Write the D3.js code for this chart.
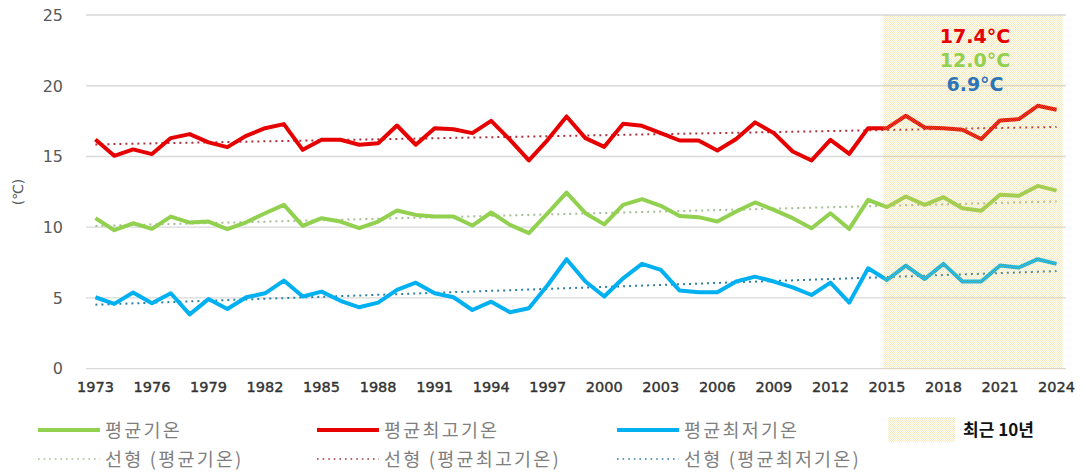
<!DOCTYPE html>
<html>
<head>
<meta charset="utf-8">
<script src="https://cdn.jsdelivr.net/npm/d3@7/dist/d3.min.js"></script>
<style>
  body { margin: 0; background: #fff; }
  svg { display: block; }
</style>
</head>
<body>
<div id="chart"></div>
<script>
/**
 * DATA
 * */
const years = [1973, 1974, 1975, 1976, 1977, 1978, 1979, 1980, 1981, 1982,
  1983, 1984, 1985, 1986, 1987, 1988, 1989, 1990, 1991, 1992,
  1993, 1994, 1995, 1996, 1997, 1998, 1999, 2000, 2001, 2002,
  2003, 2004, 2005, 2006, 2007, 2008, 2009, 2010, 2011, 2012,
  2013, 2014, 2015, 2016, 2017, 2018, 2019, 2020, 2021, 2022,
  2023, 2024];

// 평균최고기온
const maxTemp = [16.2, 15.05, 15.5, 15.17, 16.3, 16.58, 16.0, 15.66, 16.46, 17.0,
  17.29, 15.47, 16.18, 16.18, 15.83, 15.94, 17.19, 15.83, 17.0, 16.93,
  16.65, 17.52, 16.18, 14.72, 16.18, 17.83, 16.3, 15.68, 17.31, 17.17,
  16.65, 16.13, 16.13, 15.42, 16.23, 17.41, 16.65, 15.35, 14.72, 16.18,
  15.19, 17.0, 17.0, 17.88, 17.05, 17.0, 16.89, 16.23, 17.55, 17.64,
  18.58, 18.3];

// 평균기온
const avgTemp = [10.64, 9.79, 10.28, 9.88, 10.75, 10.33, 10.4, 9.86, 10.35, 10.99,
  11.58, 10.09, 10.64, 10.4, 9.93, 10.4, 11.18, 10.87, 10.75, 10.75,
  10.12, 11.04, 10.16, 9.58, 10.99, 12.45, 10.99, 10.2, 11.58, 11.98,
  11.51, 10.8, 10.71, 10.4, 11.11, 11.75, 11.23, 10.64, 9.93, 10.99,
  9.88, 11.93, 11.42, 12.17, 11.58, 12.12, 11.34, 11.16, 12.29, 12.22,
  12.92, 12.59];

// 평균최저기온
const minTemp = [5.05, 4.58, 5.38, 4.62, 5.33, 3.84, 4.92, 4.22, 5.05, 5.33,
  6.23, 5.1, 5.45, 4.8, 4.34, 4.67, 5.57, 6.08, 5.33, 5.05,
  4.15, 4.74, 3.99, 4.27, 5.92, 7.74, 6.16, 5.1, 6.39, 7.41,
  6.98, 5.52, 5.4, 5.4, 6.16, 6.51, 6.16, 5.75, 5.21, 6.08,
  4.67, 7.1, 6.27, 7.29, 6.34, 7.41, 6.16, 6.16, 7.29, 7.15,
  7.74, 7.41];

const tickYears = [1973, 1976, 1979, 1982, 1985, 1988, 1991, 1994, 1997, 2000,
  2003, 2006, 2009, 2012, 2015, 2018, 2021, 2024];
const yTicks = [0, 5, 10, 15, 20, 25];

const recentStart = 2015, recentEnd = 2024;
const recentLabels = ["17.4°C", "12.0°C", "6.9°C"];

/**
 * CONSTANTS
 * */
const width = 1086, height = 473;
const plot = { left: 86, right: 1066, top: 15, bottom: 368.7 };

const series = [
  { name: "평균기온", values: avgTemp, color: "#92d050", trend: "#a6bd95" },
  { name: "평균최고기온", values: maxTemp, color: "#e60000", trend: "#a8333f" },
  { name: "평균최저기온", values: minTemp, color: "#00b0f0", trend: "#2f7fa3" }
];

const font = "'DejaVu Sans', 'Noto Sans CJK KR', sans-serif";
const krFont = "'Noto Sans CJK KR', sans-serif";

const svg = d3.select("#chart").append("svg")
  .attr("width", width)
  .attr("height", height)
  .style("font-family", font);

const x = d3.scalePoint().domain(years).range([plot.left, plot.right]).padding(0.5);
const step = x.step();
const y = d3.scaleLinear().domain([0, 25]).range([plot.bottom, plot.top]);

// dotted shading pattern
const defs = svg.append("defs");
const pat = defs.append("pattern")
  .attr("id", "recent")
  .attr("patternUnits", "userSpaceOnUse")
  .attr("width", 2).attr("height", 2);
pat.append("rect").attr("width", 2).attr("height", 2)
  .attr("fill", "#f7e6a8").attr("fill-opacity", 0.05);
pat.append("rect").attr("x", 0).attr("y", 0).attr("width", 1).attr("height", 1)
  .attr("fill", "#eebf45").attr("fill-opacity", 0.32);
pat.append("rect").attr("x", 1).attr("y", 1).attr("width", 1).attr("height", 1)
  .attr("fill", "#eebf45").attr("fill-opacity", 0.32);

// gridlines
svg.append("g")
  .selectAll("line")
  .data(yTicks)
  .join("line")
  .attr("x1", plot.left).attr("x2", plot.right)
  .attr("y1", d => y(d)).attr("y2", d => y(d))
  .attr("stroke", "#d9d9d9")
  .attr("stroke-width", 1.3);

// y labels
svg.append("g")
  .selectAll("text")
  .data(yTicks)
  .join("text")
  .attr("x", 63)
  .attr("y", d => y(d))
  .attr("dy", "0.36em")
  .attr("text-anchor", "end")
  .attr("font-size", 16)
  .attr("fill", "#595959")
  .text(d => d);

svg.append("text")
  .attr("transform", "translate(18,192) rotate(-90)")
  .attr("text-anchor", "middle")
  .attr("dy", "0.35em")
  .attr("font-size", 14)
  .attr("fill", "#595959")
  .text("(℃)");

// x labels
svg.append("g")
  .selectAll("text")
  .data(tickYears)
  .join("text")
  .attr("x", d => x(d))
  .attr("y", 392)
  .attr("text-anchor", "middle")
  .attr("font-size", 14.5)
  .attr("fill", "#333")
  .style("paint-order", "stroke")
  .attr("stroke", "#333")
  .attr("stroke-width", 0.4)
  .text(d => d);

// linear trend (least squares), like the spreadsheet's 선형 trendline
function trend(values) {
  const xs = years.map((d, i) => i);
  const mx = d3.mean(xs), my = d3.mean(values);
  const b = d3.sum(xs, (d, i) => (d - mx) * (values[i] - my)) / d3.sum(xs, d => (d - mx) ** 2);
  const a = my - b * mx;
  return [[years[0], a], [years[years.length - 1], a + b * (years.length - 1)]];
}

const line = d3.line().x(d => x(d[0])).y(d => y(d[1]));

svg.append("g")
  .selectAll("path")
  .data(series)
  .join("path")
  .attr("d", d => line(trend(d.values)))
  .attr("fill", "none")
  .attr("stroke", d => d.trend)
  .attr("stroke-width", 2)
  .attr("stroke-dasharray", "2 4");

svg.append("g")
  .selectAll("path")
  .data(series)
  .join("path")
  .attr("d", d => line(years.map((yr, i) => [yr, d.values[i]])))
  .attr("fill", "none")
  .attr("stroke", d => d.color)
  .attr("stroke-width", 4)
  .attr("stroke-linejoin", "round");

// recent 10 years, drawn over the lines
svg.append("rect")
  .attr("x", x(recentStart) - step * 0.2)
  .attr("y", y(25))
  .attr("width", x(recentEnd) + step * 0.33 - (x(recentStart) - step * 0.2))
  .attr("height", y(0) - y(25))
  .attr("fill", "url(#recent)");

// recent means
const labelColors = ["#e60000", "#92d050", "#2e75b6"];
svg.append("g")
  .selectAll("text")
  .data(recentLabels)
  .join("text")
  .attr("x", 975)
  .attr("y", (d, i) => 43 + i * 24)
  .attr("text-anchor", "middle")
  .attr("font-size", 19)
  .attr("font-weight", "bold")
  .attr("fill", (d, i) => labelColors[i])
  .text(d => d);

// legend
const legendX = [38, 317, 617];
const leg = svg.append("g").style("font-family", krFont);
series.forEach((s, i) => {
  leg.append("line")
    .attr("x1", legendX[i]).attr("x2", legendX[i] + 62)
    .attr("y1", 430).attr("y2", 430)
    .attr("stroke", s.color).attr("stroke-width", 4);
  leg.append("text")
    .attr("x", legendX[i] + 67).attr("y", 430)
    .attr("dy", "0.36em")
    .attr("font-size", 18.5)
    .attr("letter-spacing", 2.2)
    .attr("fill", "#7f7f7f")
    .text(s.name);
  leg.append("line")
    .attr("x1", legendX[i]).attr("x2", legendX[i] + 62)
    .attr("y1", 459).attr("y2", 459)
    .attr("stroke", s.trend).attr("stroke-width", 1.6)
    .attr("stroke-dasharray", "1.6 4");
  leg.append("text")
    .attr("x", legendX[i] + 67).attr("y", 459)
    .attr("dy", "0.36em")
    .attr("font-size", 18.5)
    .attr("letter-spacing", 2.2)
    .attr("fill", "#7f7f7f")
    .text(`선형 (${s.name})`);
});

leg.append("rect")
  .attr("x", 888).attr("y", 417)
  .attr("width", 67).attr("height", 25)
  .attr("fill", "url(#recent)");
leg.append("text")
  .attr("x", 963).attr("y", 430)
  .attr("dy", "0.36em")
  .attr("font-size", 17)
  .attr("font-weight", "bold")
  .attr("fill", "#111")
  .text("최근 10년");
</script>
</body>
</html>
